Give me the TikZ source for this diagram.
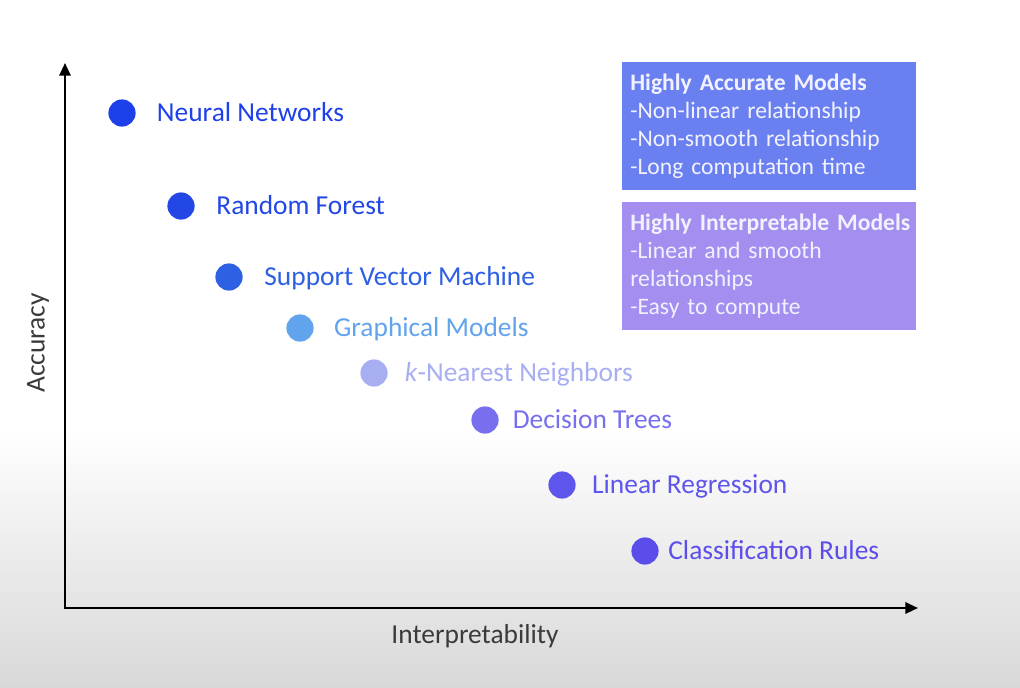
\documentclass[tikz,border=0pt]{standalone}
\usepackage{fontspec}
\setmainfont{Carlito}
\usepackage{tikz}
\usetikzlibrary{arrows.meta,positioning}
\definecolor{nncol}{HTML}{1E40EA}
\definecolor{rfcol}{HTML}{2347E6}
\definecolor{svmcol}{HTML}{2E60E4}
\definecolor{gmcol}{HTML}{62A3EE}
\definecolor{knncol}{HTML}{A8AEF2}
\definecolor{dtcol}{HTML}{786FEE}
\definecolor{lrcol}{HTML}{5E55EC}
\definecolor{crcol}{HTML}{5A4DEA}
\definecolor{accfill}{HTML}{6A80F0}
\definecolor{intfill}{HTML}{A48EF0}
\definecolor{boxtext}{HTML}{F2F2FF}
\definecolor{axistext}{HTML}{3A3A3A}
\definecolor{bggray}{HTML}{D8D8D8}
\tikzset{
  % Model dots and their names
  dot/.style={circle,fill=#1,draw=none,minimum size=0.68cm,inner sep=0pt},
  lbl/.style={text=#1,inner sep=0pt,anchor=west,font=\fontsize{19.5}{23}\selectfont,
              text height=12.4pt,text depth=0pt},
  % Summary boxes
  infobox/.style={fill=#1,draw=none,anchor=north west,minimum width=7.35cm,
                  minimum height=3.2cm,text width=6.95cm,inner xsep=5.7pt,align=left,
                  text=boxtext,font=\fontsize{16.8}{20}\selectfont},
  % Axes
  axis/.style={{Triangle[length=9pt,width=8pt]}-{Triangle[length=9pt,width=8pt]},
               line width=1.6pt,black},
  axlb/.style={text=axistext,font=\fontsize{19.5}{23}\selectfont,inner sep=0pt}
}

\begin{document}
\begin{tikzpicture}[x=0.025cm,y=-0.025cm]
  % Page and background
  \useasboundingbox (0,0) rectangle (1020,687);
  \fill[white] (0,0) rectangle (1020,430);
  \fill[top color=white,bottom color=bggray] (0,429) rectangle (1020,687);

  % Axes
  \coordinate (ytop)   at (65,63);
  \coordinate (origin) at (65,608);
  \coordinate (xend)   at (918,608);
  \draw[axis] (ytop) -- (origin) -- (xend);
  \node[axlb,rotate=90] (acc) at (38,343) {Accuracy};
  \node[axlb] (interp) at (475,636) {Interpretability};

  % Models
  \node[dot=nncol]  (nn)  at (122,113) {};
  \node[dot=rfcol]  (rf)  at (181,206) {};
  \node[dot=svmcol] (svm) at (229,277) {};
  \node[dot=gmcol]  (gm)  at (300,328) {};
  \node[dot=knncol] (knn) at (374,373) {};
  \node[dot=dtcol]  (dt)  at (485,420) {};
  \node[dot=lrcol]  (lr)  at (562,485) {};
  \node[dot=crcol]  (cr)  at (645,551) {};

  \node[lbl=nncol,  right=0.52cm of nn]  (nnl)  {Neural Networks};
  \node[lbl=rfcol,  right=0.53cm of rf]  (rfl)  {Random Forest};
  \node[lbl=svmcol, right=0.53cm of svm] (svml) {Support Vector Machine};
  \node[lbl=gmcol,  right=0.50cm of gm]  (gml)  {Graphical Models};
  \node[lbl=knncol, right=0.42cm of knn] (knnl) {\textit{k}-Nearest Neighbors};
  \node[lbl=dtcol,  right=0.34cm of dt]  (dtl)  {Decision Trees};
  \node[lbl=lrcol,  right=0.40cm of lr]  (lrl)  {Linear Regression};
  \node[lbl=crcol,  right=0.23cm of cr]  (crl)  {Classification Rules};

  % Summary boxes
  \node[infobox=accfill] (accbox) at (622,62)
    {\mbox{\textbf{Highly Accurate Models}}\\-Non-linear relationship\\-Non-smooth relationship\\-Long computation time};
  \node[infobox=intfill] (intbox) at (622,202)
    {\mbox{\textbf{Highly Interpretable Models}}\\-Linear and smooth\\relationships\\-Easy to compute};
\end{tikzpicture}
\end{document}
